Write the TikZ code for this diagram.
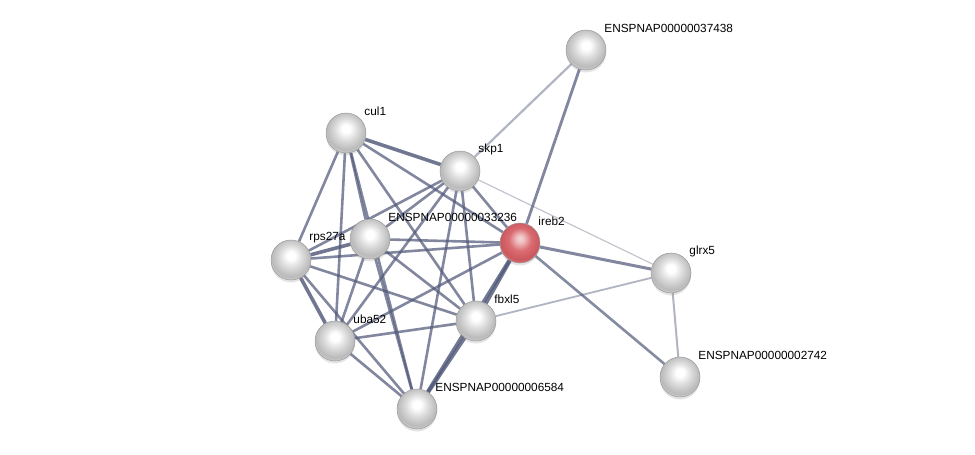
\documentclass[tikz,border=0pt]{standalone}
\usepackage{fontspec}
\setmainfont{Liberation Sans}
\usetikzlibrary{backgrounds,shadows}

\definecolor{edgecol}{RGB}{82,90,122}
\definecolor{redbody}{RGB}{214,92,98}
\pgfdeclareradialshading{greyball}{\pgfpoint{0bp}{6bp}}{%
  color(0bp)=(white); color(5bp)=(white); color(14bp)=(black!14);
  color(24bp)=(black!27); color(29bp)=(black!17); color(33bp)=(black!40); color(50bp)=(black!40)}
\pgfdeclareradialshading{redball}{\pgfpoint{0bp}{6bp}}{%
  color(0bp)=(redbody!25!white); color(5bp)=(redbody!40!white); color(14bp)=(redbody!90!white);
  color(24bp)=(redbody!95!black); color(29bp)=(redbody!80!white); color(33bp)=(redbody!55!black); color(50bp)=(redbody!55!black)}

\begin{document}
\begin{tikzpicture}[x=1pt, y=-1pt,
  font=\fontsize{11.8}{13}\selectfont,
  prot/.style={circle, minimum size=40pt, inner sep=0pt, shading=#1,
    draw=black!40, line width=0.5pt,
    drop shadow={opacity=0.2, shadow xshift=0pt, shadow yshift=-2.5pt},
    label={[inner sep=0pt, xshift=-2pt, yshift=22pt]right:\pname}},
  prot/.default={greyball},
  link/.style={draw=edgecol, line width=#1, opacity=0.72},
  link/.default={2.6pt},
  strong/.style={draw=edgecol, line width=3.6pt, opacity=0.82},
  weak/.style={draw=edgecol, line width=#1, opacity=0.45},
  weak/.default={1.8pt}]
\useasboundingbox (0,0) rectangle (975,455);
% proteins
\def\pname{ENSPNAP00000037438}\node[prot] (e37438) at (586,50) {};
\def\pname{cul1}\node[prot] (cul1) at (346,133) {};
\def\pname{skp1}\node[prot] (skp1) at (460,171) {};
\def\pname{ENSPNAP00000033236}\node[prot] (e33236) at (370,239) {};
\def\pname{ireb2}\node[prot=redball] (ireb2) at (520,243) {};
\def\pname{rps27a}\node[prot] (rps27a) at (291,260) {};
\def\pname{glrx5}\node[prot] (glrx5) at (671,273) {};
\def\pname{fbxl5}\node[prot] (fbxl5) at (476,321) {};
\def\pname{uba52}\node[prot] (uba52) at (335,341) {};
\def\pname{ENSPNAP00000002742}\node[prot] (e2742) at (680,377) {};
\def\pname{ENSPNAP00000006584}\node[prot] (e6584) at (417,409) {};
% interactions
\begin{scope}[on background layer]
\fill[white] (0,0) rectangle (975,455);
\foreach \a/\b in {cul1/e33236, cul1/ireb2, cul1/rps27a, cul1/fbxl5, cul1/uba52, cul1/e6584,
    skp1/e33236, skp1/ireb2, skp1/rps27a, skp1/fbxl5, skp1/uba52, skp1/e6584,
    e33236/ireb2, e33236/fbxl5, e33236/uba52, e33236/e6584,
    ireb2/rps27a, ireb2/uba52, rps27a/fbxl5, rps27a/e6584,
    fbxl5/uba52, uba52/e6584}
  \draw[link] (\a) -- (\b);
\foreach \a/\b in {cul1/skp1, rps27a/uba52, rps27a/e33236, fbxl5/e6584, fbxl5/ireb2, ireb2/e6584}
  \draw[strong] (\a) -- (\b);
\draw[link=2.8pt] (e37438) -- (ireb2);
\draw[weak=2.2pt] (e37438) -- (skp1);
\draw[weak=1.2pt, opacity=0.35] (skp1) -- (glrx5);
\draw[link=3pt] (ireb2) -- (glrx5);
\draw[link=2.6pt, opacity=0.7] (ireb2) -- (e2742);
\draw[weak] (fbxl5) -- (glrx5);
\draw[weak=2pt] (glrx5) -- (e2742);
\end{scope}
\end{tikzpicture}
\end{document}
